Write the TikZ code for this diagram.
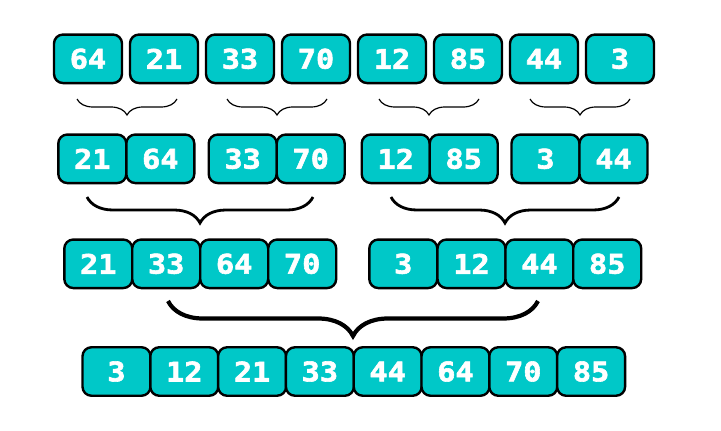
\documentclass[tikz,border=0pt]{standalone}
\usepackage{fontspec}
\newfontfamily\boxfont{DejaVu Sans Mono}[BoldFeatures={FakeBold=2.2,FakeStretch=1.12}]
\usetikzlibrary{decorations.pathreplacing}
\definecolor{boxcyan}{RGB}{0,200,200}
\tikzset{
  numbox/.style={draw=black, line width=2.4pt, fill=boxcyan, rounded corners=9pt,
    minimum width=68pt, minimum height=48.5pt, inner sep=0pt,
    text=white, font=\boxfont\bfseries\fontsize{27}{27}\selectfont},
  bracea/.style={decorate, decoration={brace, mirror, amplitude=16pt}, line width=1.2pt},
  braceb/.style={decorate, decoration={brace, mirror, amplitude=26pt}, line width=2.8pt},
  bracec/.style={decorate, decoration={brace, mirror, amplitude=35pt}, line width=4.2pt},
}
\begin{document}
\begin{tikzpicture}[x=1pt, y=-1pt]
\useasboundingbox (0,0) rectangle (721,431);
% row 1
\node[numbox] (a1) at (88,58.8) {64};
\node[numbox] (a2) at (164,58.8) {21};
\node[numbox] (a3) at (240,58.8) {33};
\node[numbox] (a4) at (316,58.8) {70};
\node[numbox] (a5) at (392,58.8) {12};
\node[numbox] (a6) at (468,58.8) {85};
\node[numbox] (a7) at (544,58.8) {44};
\node[numbox] (a8) at (620,58.8) {3};
% braces 1
\coordinate (p1l) at (77,99); \coordinate (p1r) at (177,99);
\coordinate (p2l) at (227,99); \coordinate (p2r) at (327,99);
\coordinate (p3l) at (379,99); \coordinate (p3r) at (479,99);
\coordinate (p4l) at (530,99); \coordinate (p4r) at (630,99);
\draw[bracea] (p1l) -- (p1r);
\draw[bracea] (p2l) -- (p2r);
\draw[bracea] (p3l) -- (p3r);
\draw[bracea] (p4l) -- (p4r);
% row 2
\node[numbox] (b1) at (92.3,158.8) {21};
\node[numbox] (b2) at (160.3,158.8) {64};
\node[numbox] (b3) at (242.7,158.8) {33};
\node[numbox] (b4) at (310.7,158.8) {70};
\node[numbox] (b5) at (395.7,158.8) {12};
\node[numbox] (b6) at (463.7,158.8) {85};
\node[numbox] (b7) at (545.5,158.8) {3};
\node[numbox] (b8) at (613.5,158.8) {44};
% braces 2
\coordinate (q1l) at (87,197); \coordinate (q1r) at (313,197);
\coordinate (q2l) at (391,197); \coordinate (q2r) at (619,197);
\draw[braceb] (q1l) -- (q1r);
\draw[braceb] (q2l) -- (q2r);
% row 3
\node[numbox] (c1) at (98.3,263.8) {21};
\node[numbox] (c2) at (166.2,263.8) {33};
\node[numbox] (c3) at (234.2,263.8) {64};
\node[numbox] (c4) at (302.2,263.8) {70};
\node[numbox] (c5) at (403.3,263.8) {3};
\node[numbox] (c6) at (471.5,263.8) {12};
\node[numbox] (c7) at (539.5,263.8) {44};
\node[numbox] (c8) at (607.2,263.8) {85};
% brace 3
\coordinate (r1l) at (168,301); \coordinate (r1r) at (538,301);
\draw[bracec] (r1l) -- (r1r);
% row 4
\node[numbox] (d1) at (116.5,371.5) {3};
\node[numbox] (d2) at (184.3,371.5) {12};
\node[numbox] (d3) at (252.1,371.5) {21};
\node[numbox] (d4) at (319.9,371.5) {33};
\node[numbox] (d5) at (387.7,371.5) {44};
\node[numbox] (d6) at (455.5,371.5) {64};
\node[numbox] (d7) at (523.3,371.5) {70};
\node[numbox] (d8) at (591.1,371.5) {85};
\end{tikzpicture}
\end{document}
